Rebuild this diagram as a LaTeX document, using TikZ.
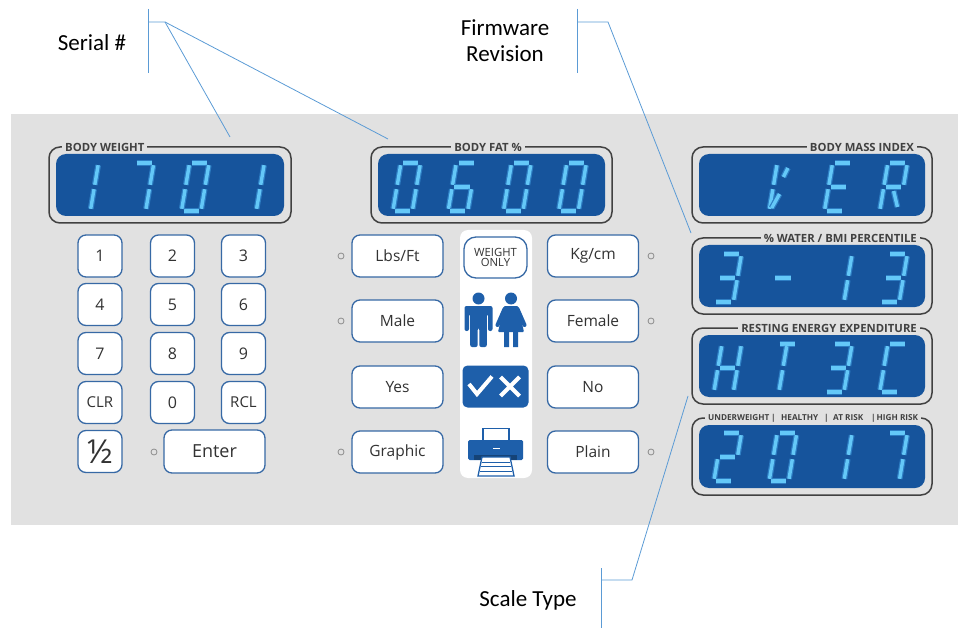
\documentclass[tikz,border=0pt]{standalone}
\usepackage{fontspec}
\setmainfont{Open Sans}
\newfontfamily\callfont{Carlito}
\definecolor{panel}{RGB}{225,225,225}
\definecolor{lcdblue}{RGB}{22,84,156}
\definecolor{segcyan}{RGB}{100,200,248}
\definecolor{segglow}{RGB}{45,125,195}
\definecolor{framegray}{RGB}{65,65,65}
\definecolor{btnblue}{RGB}{55,105,165}
\definecolor{iconblue}{RGB}{30,95,170}
\definecolor{txtgray}{RGB}{50,50,50}
\definecolor{callblue}{RGB}{91,155,213}
\definecolor{ledgray}{RGB}{140,140,140}
\newcommand\fsz[1]{\fontsize{#1}{#1}\selectfont}
% seven-segment pieces (local units, y downward)
\newcommand\sgA{\draw[seg] (2.2,0)--(17.3,0);}
\newcommand\sgB{\draw[seg] (19.5,2.2)--(19.5,21.8);}
\newcommand\sgC{\draw[seg] (19.5,26.2)--(19.5,45.8);}
\newcommand\sgD{\draw[seg] (2.2,48)--(17.3,48);}
\newcommand\sgE{\draw[seg] (0,26.2)--(0,45.8);}
\newcommand\sgF{\draw[seg] (0,2.2)--(0,21.8);}
\newcommand\sgG{\draw[seg] (2.2,24)--(17.3,24);}
\newcommand\sgI{\draw[seg] (9.75,2.2)--(9.75,21.8);}
\newcommand\sgJ{\draw[seg] (9.75,26.2)--(9.75,45.8);}
\newcommand\sgK{\draw[seg] (10.5,28)--(17,44);}
\newcommand\sgM{\draw[seg] (2,45)--(7.5,31);}
\newcommand\sgN{\draw[seg] (11.5,5)--(8.5,14);}
\newcommand\dOne{\sgB\sgC}
\newcommand\dTwo{\sgA\sgB\sgG\sgE\sgD}
\newcommand\dThree{\sgA\sgB\sgG\sgC\sgD}
\newcommand\dSix{\sgA\sgF\sgG\sgE\sgD\sgC}
\newcommand\dSeven{\sgA\sgB\sgC}
\newcommand\dZero{\sgA\sgB\sgC\sgD\sgE\sgF}
\newcommand\dDash{\sgG}
\newcommand\dH{\sgF\sgE\sgB\sgC\sgG}
\newcommand\dT{\sgA\sgI\sgJ}
\newcommand\dC{\sgA\sgF\sgE\sgD}
\newcommand\dE{\sgA\sgF\sgE\sgD\sgG}
\newcommand\dR{\sgA\sgB\sgF\sgE\sgG\sgK}
\newcommand\dV{\sgF\sgE\sgM\sgN}
\newcommand\lcddigit[3]{\begin{scope}[shift={(#1,#2)},xslant=0.17]#3\end{scope}}
\begin{document}
\begin{tikzpicture}[x=1pt,y=-1pt,
  seg/.style={draw=segcyan, line width=3.4pt, preaction={draw=segglow, line width=5.8pt}},
  btn/.style={draw=btnblue, line width=1.3pt, fill=white, rounded corners=8pt, inner sep=0pt, text=txtgray},
  keybtn/.style={btn, minimum width=44pt, minimum height=42pt, font=\fsz{16}},
  widebtn/.style={btn, minimum width=91pt, minimum height=42pt, font=\fsz{15.5}},
  led/.style={circle, draw=ledgray, fill=panel, line width=0.8pt, minimum size=6pt, inner sep=0pt},
  dframe/.style={draw=framegray, line width=1.5pt, rounded corners=11pt, fill=panel, inner sep=0pt},
  lcdpane/.style={fill=lcdblue, rounded corners=10pt, inner sep=0pt},
  dlabel/.style={fill=panel, inner xsep=3pt, inner ysep=1pt, font=\fsz{11.3}\bfseries, text=framegray},
  smlabel/.style={inner sep=0pt, anchor=west, font=\fsz{8.2}\bfseries, text=framegray},
  callout/.style={draw=callblue, line width=0.8pt},
  calltext/.style={font=\callfont\fsz{23}, text=black, align=center}]
\useasboundingbox (0,0) rectangle (958,628);
\fill[panel] (11,114) rectangle (958,525);

% ---------- displays ----------
\node[dframe, minimum width=242pt, minimum height=76pt] (bwf) at (170,185) {};
\node[lcdpane, minimum width=228pt, minimum height=62pt] (bwl) at (bwf) {};
\node[dlabel, anchor=west] (bwt) at (62,147) {BODY WEIGHT};
\node[dframe, minimum width=241pt, minimum height=76pt] (bff) at (491.5,185) {};
\node[lcdpane, minimum width=227pt, minimum height=62pt] (bfl) at (bff) {};
\node[dlabel] (bft) at (488,147) {BODY FAT \%};
\node[dframe, minimum width=240pt, minimum height=76pt] (bmf) at (812,185) {};
\node[lcdpane, minimum width=226pt, minimum height=62pt] (bml) at (bmf) {};
\node[dlabel, anchor=east] (bmt) at (917,147) {BODY MASS INDEX};
\node[dframe, minimum width=240pt, minimum height=76pt] (waf) at (812,276) {};
\node[lcdpane, minimum width=226pt, minimum height=62pt] (wal) at (waf) {};
\node[dlabel, anchor=east] (wat) at (920,238) {\% WATER / BMI PERCENTILE};
\node[dframe, minimum width=240pt, minimum height=76pt] (ref) at (812,366) {};
\node[lcdpane, minimum width=226pt, minimum height=62pt] (rel) at (ref) {};
\node[dlabel, anchor=east] (ret) at (920,328) {RESTING ENERGY EXPENDITURE};
\node[dframe, minimum width=240pt, minimum height=77pt] (unf) at (812,456.5) {};
\node[lcdpane, minimum width=226pt, minimum height=63pt] (unl) at (unf) {};
\node[fill=panel, minimum width=216pt, minimum height=8pt, inner sep=0pt] (unbg) at (812.5,418) {};
\node[smlabel] (u1) at (708,418) {UNDERWEIGHT};
\node[smlabel] (u2) at (771,418) {|};
\node[smlabel] (u3) at (781,418) {HEALTHY};
\node[smlabel] (u4) at (824,418) {|};
\node[smlabel] (u5) at (833,418) {AT RISK};
\node[smlabel] (u6) at (871,418) {|};
\node[smlabel] (u7) at (876.5,418) {HIGH RISK};

% digits
\lcddigit{79}{163}{\dOne}
\lcddigit{134.3}{163}{\dSeven}
\lcddigit{189.6}{163}{\dZero}
\lcddigit{244.9}{163}{\dOne}
\lcddigit{401}{163}{\dZero}
\lcddigit{456.3}{163}{\dSix}
\lcddigit{511.6}{163}{\dZero}
\lcddigit{566.9}{163}{\dZero}
\lcddigit{777.3}{163}{\dV}
\lcddigit{832.6}{163}{\dE}
\lcddigit{887.9}{163}{\dR}
\lcddigit{722}{254}{\dThree}
\lcddigit{777.3}{254}{\dDash}
\lcddigit{832.6}{254}{\dOne}
\lcddigit{887.9}{254}{\dThree}
\lcddigit{722}{344}{\dH}
\lcddigit{777.3}{344}{\dT}
\lcddigit{832.6}{344}{\dThree}
\lcddigit{887.9}{344}{\dC}
\lcddigit{722}{433}{\dTwo}
\lcddigit{777.3}{433}{\dZero}
\lcddigit{832.6}{433}{\dOne}
\lcddigit{887.9}{433}{\dSeven}

% ---------- keypad ----------
\node[keybtn] (k1) at (100,256) {1};
\node[keybtn] (k2) at (172.5,256) {2};
\node[keybtn] (k3) at (243.5,256) {3};
\node[keybtn] (k4) at (100,304.5) {4};
\node[keybtn] (k5) at (172.5,304.5) {5};
\node[keybtn] (k6) at (243.5,304.5) {6};
\node[keybtn] (k7) at (100,353.5) {7};
\node[keybtn] (k8) at (172.5,353.5) {8};
\node[keybtn] (k9) at (243.5,353.5) {9};
\node[keybtn, font=\fsz{15}] (kclr) at (100,402.5) {CLR};
\node[keybtn] (k0) at (172.5,402.5) {0};
\node[keybtn, font=\fsz{15}] (krcl) at (243.5,402.5) {RCL};
\node[keybtn, font=\fsz{33}] (khalf) at (100,451.5) {½};
\node[btn, minimum width=101pt, minimum height=43pt, font=\fsz{18}] (kent) at (214.5,451.5) {Enter};
\node[led] (lent) at (154,452) {};

% ---------- middle buttons ----------
\node[widebtn] (lbs) at (397.5,256) {Lbs/Ft};
\node[widebtn] (male) at (397.5,321) {Male};
\node[widebtn] (yes) at (397.5,387) {Yes};
\node[widebtn] (graph) at (397.5,452) {Graphic};
\node[widebtn] (kg) at (593,256) {Kg/cm};
\node[widebtn] (fem) at (593,321) {Female};
\node[widebtn] (no) at (593,387) {No};
\node[widebtn] (plain) at (593,452) {Plain};
\node[led] (l1) at (341,256) {};
\node[led] (l2) at (341,321) {};
\node[led] (l3) at (341,452) {};
\node[led] (r1) at (651,256) {};
\node[led] (r2) at (651,321) {};
\node[led] (r3) at (651,452) {};

% ---------- icon column ----------
\node[fill=white, rounded corners=8pt, minimum width=72pt, minimum height=248pt, inner sep=0pt] (col) at (496,354) {};
\node[btn, rounded corners=12pt, minimum width=63pt, minimum height=41pt, font=\fsz{11.3}, align=center] (wo) at (495.5,257.5) {WEIGHT\\[-1pt]ONLY};
% people
\fill[iconblue] (478.5,298.5) circle (6);
\fill[iconblue, rounded corners=2pt] (464.5,331) -- (464.5,306) -- (492.5,306) -- (492.5,331) -- (488,331) -- (488,314) -- (486.8,314) -- (486.8,347) -- (479.3,347) -- (479.3,328) -- (477.7,328) -- (477.7,347) -- (470.2,347) -- (470.2,314) -- (469,314) -- (469,331) -- cycle;
\fill[iconblue] (511,298.5) circle (6);
\fill[iconblue, rounded corners=1pt] (504,306) -- (518,306) -- (524,332) -- (498,332) -- cycle;
\draw[iconblue, line width=4pt, line cap=round] (504.5,309) -- (497.5,325) (517.5,309) -- (524.5,325);
\fill[iconblue] (504,330) rectangle (509,347) (513,330) rectangle (518,347);
% check / cross
\node[fill=iconblue, rounded corners=5pt, minimum width=66pt, minimum height=42pt, inner sep=0pt] (chk) at (495.5,386.5) {};
\draw[white, line width=4pt] (469,384) -- (477,394) -- (492,376.5);
\draw[white, line width=4pt] (500.5,377) -- (519.5,396) (519.5,377) -- (500.5,396);
% printer
\draw[iconblue, fill=white, line width=1.3pt] (483,428.5) rectangle (509,441);
\fill[iconblue, rounded corners=1.5pt] (468,440) rectangle (523,460);
\draw[white, line width=1.6pt] (493,448.5) -- (500,448.5);
\fill[iconblue!70!black] (474,455) rectangle (517,460);
\draw[iconblue, fill=white, line width=1.3pt] (478,476) -- (482,457) -- (510,457) -- (514,476) -- cycle;
\draw[iconblue, line width=0.8pt] (482,462) -- (510,462) (481,466.5) -- (511,466.5) (480,471) -- (512,471);

% ---------- callouts ----------
\node[calltext] (serial) at (92,43) {Serial \#};
\coordinate (sTop) at (148,9);
\coordinate (sBot) at (148,73);
\coordinate (sMid) at (148,22);
\coordinate (sElb) at (165,22);
\coordinate (sA) at (230,137);
\coordinate (sB) at (388,139);
\draw[callout] (sTop) -- (sBot);
\draw[callout] (sMid) -- (sElb) -- (sA);
\draw[callout] (sElb) -- (sB);

\node[calltext] (firm) at (505,41) {Firmware\\[3pt]Revision};
\coordinate (fTop) at (577,9);
\coordinate (fBot) at (577,73);
\coordinate (fMid) at (577,22);
\coordinate (fElb) at (608,22);
\coordinate (fEnd) at (691,233);
\draw[callout] (fTop) -- (fBot);
\draw[callout] (fMid) -- (fElb) -- (fEnd);

\node[calltext] (scale) at (528,600) {Scale Type};
\coordinate (cTop) at (601,568);
\coordinate (cBot) at (601,628);
\coordinate (cMid) at (601,580);
\coordinate (cElb) at (632,580);
\coordinate (cEnd) at (688,396);
\draw[callout] (cTop) -- (cBot);
\draw[callout] (cMid) -- (cElb) -- (cEnd);
\end{tikzpicture}
\end{document}
